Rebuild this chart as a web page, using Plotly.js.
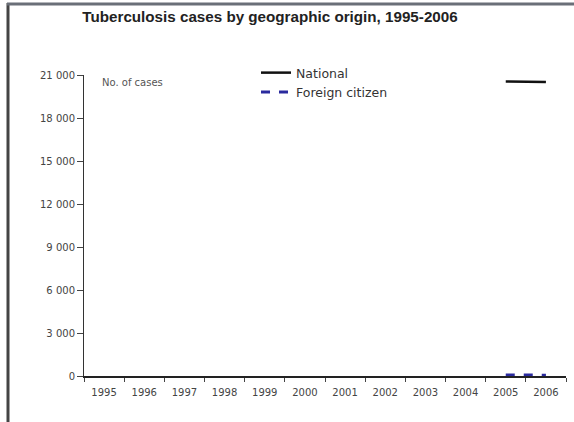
<!DOCTYPE html>
<html>
<head>
<meta charset="utf-8">
<script src="https://cdn.plot.ly/plotly-3.0.1.min.js"></script>
<style>html,body{margin:0;padding:0;background:#fff;}#chart{width:574px;height:422px;}</style>
</head>
<body>
<div id="chart"></div>
<script>
const years = ["1995","1996","1997","1998","1999","2000","2001","2002","2003","2004","2005","2006"];
const national = [null,null,null,null,null,null,null,null,null,null,20550,20520];
const foreign = [null,null,null,null,null,null,null,null,null,null,70,60];
const yTicks = [0,3000,6000,9000,12000,15000,18000,21000];

const W = 574, H = 422;
const mL = 84, mR = 8, mT = 75, mB = 46;
const pw = W - mL - mR, ph = H - mT - mB;
const px = x => (x - mL) / pw;
const py = y => 1 - (y - mT) / ph;

const traces = [
  {x: years, y: national, name: "National", type: "scatter", mode: "lines",
   line: {color: "#111", width: 2.5}, connectgaps: false},
  {x: years, y: foreign, name: "Foreign citizen", type: "scatter", mode: "lines",
   line: {color: "#2a2a9e", width: 3, dash: "dash"}, connectgaps: false}
];

const tickFont = {family: "DejaVu Sans, Verdana, sans-serif", size: 10, color: "#444"};

const layout = {
  width: W, height: H,
  margin: {l: mL, r: mR, t: mT, b: mB, pad: 0},
  paper_bgcolor: "#fff", plot_bgcolor: "#fff",
  separators: ". ",
  font: {family: "DejaVu Sans, Verdana, sans-serif", color: "#444", size: 9},
  title: {text: "Tuberculosis cases by geographic origin, 1995-2006",
          font: {family: "Liberation Sans, Arial, sans-serif", size: 15.2, color: "#222", weight: "bold"},
          x: 270 / W, xanchor: "center", xref: "container", y: 1 - 17 / H, yanchor: "middle", yref: "container"},
  xaxis: {type: "category", range: [-0.5, 11.5], showgrid: false, zeroline: false,
          showline: true, linecolor: "#222", linewidth: 1.5,
          ticks: "outside", ticklen: 4, tickcolor: "#444", tickson: "boundaries",
          ticklabelstandoff: 6,
          tickfont: tickFont, fixedrange: true},
  yaxis: {range: [0, 21000], tickvals: yTicks, tickformat: ",d", showgrid: false, zeroline: false,
          showline: true, linecolor: "#333", linewidth: 1,
          ticks: "outside", ticklen: 6, tickcolor: "#444",
          tickfont: tickFont, fixedrange: true},
  showlegend: true,
  legend: {x: px(256), xanchor: "left", y: py(58), yanchor: "top", bgcolor: "rgba(0,0,0,0)",
           font: {family: "DejaVu Sans, Verdana, sans-serif", size: 12.5, color: "#333"},
           tracegroupgap: 0, itemwidth: 30},
  annotations: [
    {text: "No. of cases", xref: "paper", yref: "paper", x: px(100), y: py(83),
     xanchor: "left", yanchor: "middle", showarrow: false,
     font: {family: "DejaVu Sans, Verdana, sans-serif", size: 10, color: "#555"}}
  ],
  shapes: [
    {type: "line", xref: "paper", yref: "paper", x0: px(8), x1: px(8), y0: py(3), y1: py(430),
     line: {color: "#444", width: 3}},
    {type: "line", xref: "paper", yref: "paper", x0: px(7), x1: px(580), y0: py(4), y1: py(4),
     line: {color: "#6a6f78", width: 3}}
  ]
};

Plotly.newPlot("chart", traces, layout, {displayModeBar: false, staticPlot: true});
</script>
</body>
</html>
